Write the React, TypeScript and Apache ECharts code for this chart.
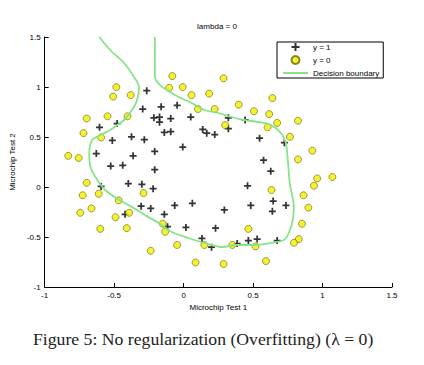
import React, { useEffect, useRef } from 'react';
import * as echarts from 'echarts';

const posX = [0.051267,-0.092742,-0.21371,-0.375,-0.51325,-0.52477,-0.39804,-0.30588,0.016705,0.13191,0.38537,0.52938,0.63882,0.73675,0.54666,0.322,0.16647,-0.046659,-0.17339,-0.47869,-0.60541,-0.62846,-0.59389,-0.42108,-0.11578,0.20104,0.46601,0.67339,-0.13882,-0.29435,-0.26555,-0.16187,-0.17339,-0.28283,-0.36348,-0.30012,-0.23675,-0.06394,0.062788,0.22984,0.2932,0.48329,0.64459,0.46025,0.6273,0.57546,0.72523,0.22408,0.44297,0.322,0.13767,-0.0063364,-0.092742,-0.20795,-0.20795,-0.43836,-0.21947,-0.13882];
const posY = [0.69956,0.68494,0.69225,0.50219,0.46564,0.2098,0.034357,-0.19225,-0.40424,-0.51389,-0.56506,-0.5212,-0.24342,-0.18494,0.48757,0.5826,0.53874,0.81652,0.69956,0.63377,0.59722,0.33406,0.005117,-0.27266,-0.39693,-0.60161,-0.53582,-0.53582,0.54605,0.77997,0.96272,0.8019,0.64839,0.47295,0.31213,0.027047,-0.21418,-0.18494,-0.16301,-0.41155,-0.2288,-0.18494,-0.14108,0.012427,0.15863,0.26827,0.44371,0.52412,0.67032,0.69225,0.57529,0.39985,0.55336,0.35599,0.17325,0.21711,-0.016813,-0.27266];

const negX = [0.18376,0.22408,0.29896,0.50634,0.61578,0.60426,0.76555,0.92684,0.82316,0.96141,0.93836,0.86348,0.89804,0.85196,0.82892,0.79435,0.59274,0.51786,0.46601,0.35081,0.28744,0.085829,0.14919,-0.13306,-0.40956,-0.39228,-0.74366,-0.69758,-0.75518,-0.69758,-0.4038,-0.38076,-0.50749,-0.54781,0.10311,0.057028,-0.10426,-0.081221,0.28744,0.39689,0.63882,0.82316,0.67339,1.0709,-0.046659,-0.23675,-0.15035,-0.49021,-0.46717,-0.28859,-0.61118,-0.66302,-0.59965,-0.72638,-0.83007,-0.72062,-0.59389,-0.48445,-0.0063364,0.63265];
const negY = [0.93348,0.77997,0.61915,0.75804,0.7288,0.59722,0.50219,0.3633,0.27558,0.085526,0.012427,-0.082602,-0.20687,-0.36769,-0.5212,-0.55775,-0.7405,-0.5943,-0.41886,-0.57968,-0.76974,-0.75512,-0.57968,-0.4481,-0.41155,-0.25804,-0.25804,0.041667,0.2902,0.68494,0.70687,0.91886,0.90424,0.70687,0.77997,0.91886,0.99196,1.1089,1.087,0.82383,0.88962,0.66301,0.64108,0.10015,-0.57968,-0.63816,-0.36769,-0.3019,-0.13377,-0.060673,-0.067982,-0.21418,-0.41886,-0.082602,0.31213,0.53874,0.49488,0.99927,0.99927,-0.030612];

const boundaryX = [-0.607,-0.529,-0.429,-0.357,-0.321,-0.329,-0.357,-0.429,-0.529,-0.586,-0.657,-0.679,-0.671,-0.621,-0.564,-0.464,-0.371,-0.279,-0.179,-0.086,0.036,0.15,0.271,0.393,0.507,0.629,0.721,0.757,0.786,0.793,0.764,0.75,0.736,0.7,0.629,0.536,0.436,0.343,0.25,0.15,0.057,-0.036,-0.121,-0.171,-0.207,-0.207,-0.207];
const boundaryY = [1.5,1.37,1.24,1.1,1.0,0.9,0.8,0.67,0.57,0.53,0.47,0.34,0.2,0.07,-0.03,-0.13,-0.2,-0.28,-0.36,-0.45,-0.51,-0.56,-0.6,-0.58,-0.58,-0.56,-0.53,-0.46,-0.33,-0.2,0.04,0.27,0.44,0.54,0.62,0.65,0.67,0.7,0.74,0.77,0.84,0.9,0.97,1.02,1.1,1.27,1.5];

const titleText = 'lambda = 0';
const xName = 'Microchip Test 1';
const yName = 'Microchip Test 2';
const caption = 'Figure 5: No regularization (Overfitting) (\u03bb = 0)';

const plusPath = 'path://M3.75,0 h2.5 v3.75 h3.75 v2.5 h-3.75 v3.75 h-2.5 v-3.75 h-3.75 v-2.5 h3.75 z';
const lineIcon = 'path://M0,0 L0.02,0 L0.02,0.02 Z M0,3.1 L25,3.1 L25,4.9 L0,4.9 Z M0,8 L0.02,8 L0.02,7.98 Z';

export default function App() {
  const ref = useRef<HTMLDivElement>(null);
  useEffect(() => {
    if (!ref.current) return;
    const chart = echarts.init(ref.current, null, { renderer: 'svg' });
    const font = 'Liberation Sans, Arial, sans-serif';
    chart.setOption({
      animation: false,
      backgroundColor: '#ffffff',
      title: {
        text: titleText,
        left: 217,
        top: 22,
        textAlign: 'center',
        padding: 0,
        textStyle: { fontSize: 8, fontWeight: 'normal', color: '#000', fontFamily: font },
      },
      legend: {
        orient: 'vertical',
        left: 277,
        top: 42,
        padding: [1, 4, 1, 6],
        itemWidth: 25,
        itemHeight: 8,
        itemGap: 4,
        borderColor: '#000',
        borderWidth: 1,
        backgroundColor: '#fff',
        textStyle: { fontSize: 8, color: '#000', fontFamily: font },
        data: [
          { name: 'y = 1' },
          { name: 'y = 0' },
          { name: 'Decision boundary', icon: lineIcon },
        ],
      },
      grid: { left: 42, right: 32, top: 37, bottom: 78, containLabel: false },
      xAxis: {
        type: 'value',
        min: -1,
        max: 1.5,
        interval: 0.5,
        name: xName,
        nameLocation: 'middle',
        nameGap: 15,
        nameTextStyle: { fontSize: 8, color: '#000', fontFamily: font },
        axisLine: { show: true, onZero: false, lineStyle: { color: '#000', width: 1 } },
        axisTick: { show: true, inside: true, length: 4, lineStyle: { color: '#000' } },
        axisLabel: { fontSize: 8, color: '#000', margin: 4, fontFamily: font },
        splitLine: { show: false },
      },
      yAxis: {
        type: 'value',
        min: -1,
        max: 1.5,
        interval: 0.5,
        name: yName,
        nameLocation: 'middle',
        nameGap: 23,
        nameTextStyle: { fontSize: 8, color: '#000', fontFamily: font },
        axisLine: { show: true, onZero: false, lineStyle: { color: '#000', width: 1 } },
        axisTick: { show: true, inside: true, length: 4, lineStyle: { color: '#000' } },
        axisLabel: { fontSize: 8, color: '#000', margin: 4, fontFamily: font },
        splitLine: { show: false },
      },
      series: [
        {
          name: 'y = 1',
          type: 'scatter',
          symbol: plusPath,
          symbolSize: 7,
          itemStyle: { color: '#000' },
          data: posX.map((x, i) => [x, posY[i]]),
        },
        {
          name: 'y = 0',
          type: 'scatter',
          symbol: 'circle',
          symbolSize: 7,
          itemStyle: { color: '#f2ee00', borderColor: '#6e6a00', borderWidth: 0.8 },
          data: negX.map((x, i) => [x, negY[i]]),
        },
        {
          name: 'Decision boundary',
          type: 'line',
          smooth: 0.3,
          showSymbol: false,
          symbol: 'none',
          lineStyle: { color: '#86e486', width: 1.8 },
          itemStyle: { color: '#86e486' },
          data: boundaryX.map((x, i) => [x, boundaryY[i]]),
        },
      ],
      graphic: [
        {
          type: 'text',
          left: 33,
          top: 330,
          style: {
            text: caption,
            fontSize: 17.7,
            fontFamily: 'Liberation Serif, Times New Roman, serif',
            fill: '#222',
          },
        },
      ],
    });
    return () => chart.dispose();
  }, []);
  return <div ref={ref} style={{ position: 'fixed', left: 0, top: 0, width: 424, height: 365 }} />;
}
